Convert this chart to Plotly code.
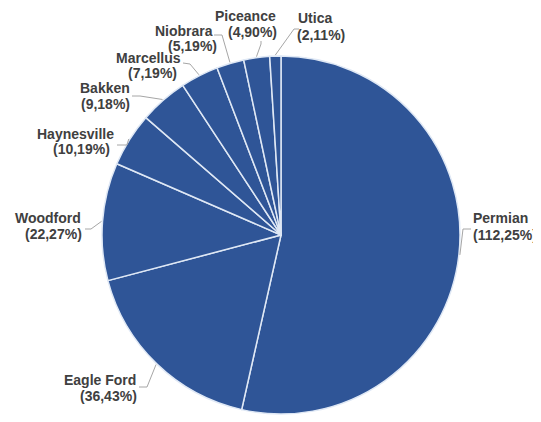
import plotly.graph_objects as go
import math

# ---- data ----
basins = ["Permian", "Eagle Ford", "Woodford", "Haynesville", "Bakken",
          "Marcellus", "Niobrara", "Piceance", "Utica"]
values = [112.25, 36.43, 22.27, 10.19, 9.18, 7.19, 5.19, 4.90, 2.11]
value_labels = ["112,25%", "36,43%", "22,27%", "10,19%", "9,18%",
                "7,19%", "5,19%", "4,90%", "2,11%"]

# ---- layout constants (window pixels) ----
OFF = 8                 # default page body margin
WIN_W, WIN_H = 541, 422
W, H = WIN_W - OFF, WIN_H - OFF
CX, CY, R = 281, 235, 179

# label placement: name (x, y), value (x, y), xanchor — window pixels
label_pos = [
    ((473, 218), (473, 235), "left"),
    ((100, 380), (108, 396), "center"),
    ((48, 218), (53, 234), "center"),
    ((75, 134), (81, 149), "center"),
    ((105, 88), (105, 104), "center"),
    ((148, 58), (152, 73), "center"),
    ((184, 31), (192, 46), "center"),
    ((245, 16), (252, 32), "center"),
    ((315, 18), (321, 35), "center"),
]
# leader line: label-side start point, elbow (window pixels)
leader_pts = [
    ((471, 229), (463, 229)),
    ((139, 387), (147, 387)),
    ((85, 229), (91, 229)),
    ((117, 145), (127, 145)),
    ((132, 96), (140, 96)),
    ((183, 63), (190, 64)),
    ((214, 35), (222, 35)),
    ((261, 41), (261, 44)),
    ((299, 29), (294, 29)),
]

def px(x, y):
    return (x - OFF) / W, 1 - (y - OFF) / H

d0 = px(CX - R, CY + R)
d1 = px(CX + R, CY - R)

fig = go.Figure(go.Pie(
    labels=basins,
    values=values,
    sort=False,
    direction="clockwise",
    rotation=0,
    textinfo="none",
    hoverinfo="skip",
    marker=dict(colors=["#2f5597"] * len(values),
                line=dict(color="#dfe8f5", width=1.5)),
    domain=dict(x=[d0[0], d1[0]], y=[d0[1], d1[1]]),
    showlegend=False,
))

font = dict(family="Arial, Liberation Sans, sans-serif", size=14, color="#404040")
total = sum(values)
cum = 0.0
shapes = []
annotations = []
for name, v, vl, lp, lead in zip(basins, values, value_labels, label_pos, leader_pts):
    mid = (cum + v / 2) / total
    cum += v
    th = 2 * math.pi * mid
    ex = CX + (R + 1) * math.sin(th)
    ey = CY - (R + 1) * math.cos(th)
    (ax, ay), (bx, by) = lead
    p1 = px(ax, ay); p2 = px(bx, by); p3 = px(ex, ey)
    shapes.append(dict(type="path", xref="paper", yref="paper",
                       path=f"M {p1[0]},{p1[1]} L {p2[0]},{p2[1]} L {p3[0]},{p3[1]}",
                       line=dict(color="#a6a6a6", width=1)))
    for (tx, ty), txt in ((lp[0], name), (lp[1], f"({vl})")):
        x, y = px(tx, ty)
        annotations.append(dict(x=x, y=y, xref="paper", yref="paper",
                                xanchor=lp[2], yanchor="middle",
                                text=f"<b>{txt}</b>", showarrow=False,
                                borderpad=0, borderwidth=0,
                                font=font))

fig.update_layout(
    width=W, height=H,
    margin=dict(l=0, r=0, t=0, b=0),
    paper_bgcolor="white", plot_bgcolor="white",
    shapes=shapes, annotations=annotations,
)
fig.write_html("out.html")
